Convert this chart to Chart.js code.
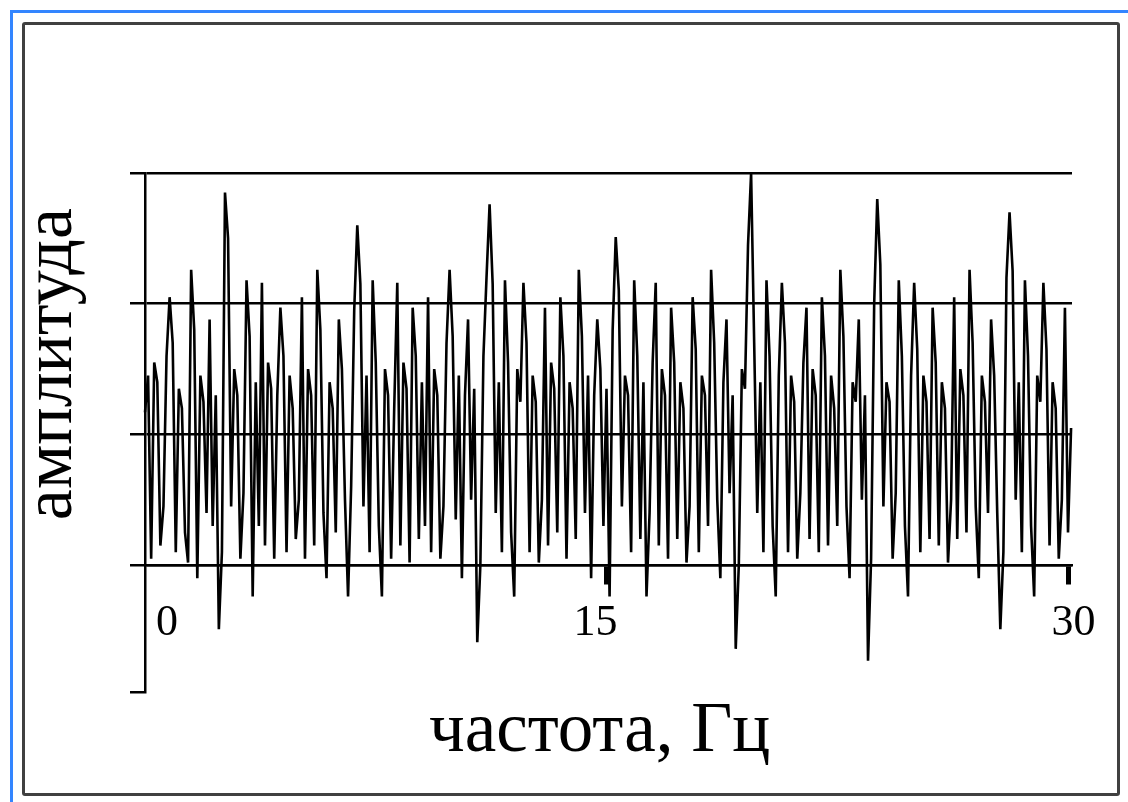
<!DOCTYPE html>
<html>
<head>
<meta charset="utf-8">
<script src="https://cdn.jsdelivr.net/npm/chart.js@4"></script>
<style>
  html, body { margin: 0; padding: 0; background: #fff; }
  #wrap { position: relative; width: 1128px; height: 802px; overflow: hidden; }
  .outer { position: absolute; left: 10px; top: 10px; width: 1200px; height: 900px;
           border-left: 3px solid #3385ff; border-top: 3px solid #3385ff; }
  .inner { position: absolute; left: 22px; top: 22px; width: 1092px; height: 768px;
           border: 3px solid #404040; border-radius: 3px; }
  canvas { position: absolute; left: 0; top: 0; }
</style>
</head>
<body>
<div id="wrap">
  <div class="outer"></div>
  <div class="inner"></div>
  <canvas id="signalChart" width="1128" height="802"></canvas>
</div>
<script>
// sample spacing along the frequency axis (Hz)
const sampleStep = 0.1;

// amplitude of each sample
const amplitude = [
   0.17,  0.45, -0.95,  0.55,  0.40, -0.85, -0.55,  0.60,  1.05,  0.70,
  -0.90,  0.35,  0.20, -0.75, -0.98,  1.26,  0.80, -1.10,  0.45,  0.25,
  -0.60,  0.88, -0.70,  0.30, -1.49, -0.90,  1.85,  1.50, -0.55,  0.50,
   0.30, -0.95, -0.45,  1.18,  0.75, -1.24,  0.40, -0.70,  1.16, -0.85,
   0.55,  0.35, -0.95,  0.30,  0.97,  0.60, -0.90,  0.45,  0.20, -0.80,
  -0.50,  1.05, -0.95,  0.50,  0.30, -0.85,  1.26,  0.80, -0.60, -1.10,
   0.40,  0.20, -0.75,  0.88,  0.50, -0.50, -1.24, -0.40,  0.95,  1.60,
   1.15, -0.55,  0.45, -0.90,  1.18,  0.55, -0.70, -1.24,  0.50,  0.30,
  -0.95,  0.20,  1.16, -0.85,  0.55,  0.35, -0.98,  0.97,  0.60, -0.80,
   0.40, -0.70,  1.05, -0.90,  0.50,  0.30, -0.95, -0.55,  0.70,  1.26,
   0.75, -0.65,  0.45, -1.10,  0.30,  0.88, -0.50,  0.35, -1.59, -1.00,
   0.60,  1.20,  1.76,  1.15, -0.60,  0.40, -0.90,  1.18,  0.55, -0.75,
  -1.24,  0.50,  0.25,  1.16,  0.70, -0.90,  0.45,  0.25, -0.98, -0.50,
   0.97, -0.85,  0.55,  0.35, -0.75,  1.05,  0.60, -0.95,  0.40,  0.20,
  -0.80,  1.26,  0.75, -0.60,  0.45, -1.10,  0.30,  0.88,  0.50, -0.70,
   0.35, -1.24,  0.80,  1.51,  1.10, -0.55,  0.45,  0.30, -0.90,  1.18,
   0.60, -0.80,  0.40, -1.24, -0.60,  0.55,  1.16, -0.85,  0.50,  0.30,
  -0.95,  0.97,  0.55, -0.80,  0.40,  0.20, -0.98, -0.55,  1.05,  0.65,
  -0.90,  0.45,  0.30, -0.70,  1.26,  0.70, -0.50, -1.10,  0.40,  0.88,
  -0.45,  0.30, -1.64, -1.00,  0.50,  0.35,  1.45,  2.00,  0.70, -0.60,
   0.40, -0.90,  1.18,  0.60, -0.70, -1.24,  0.45,  1.16,  0.70, -0.90,
   0.45,  0.25, -0.95, -0.45,  0.55,  0.97, -0.80,  0.50,  0.30, -0.90,
   1.05,  0.60, -0.85,  0.45,  0.20, -0.70,  1.26,  0.75, -0.55, -1.10,
   0.40,  0.25,  0.88, -0.50,  0.30, -1.73, -0.95,  1.00,  1.80,  1.30,
  -0.55,  0.40,  0.25, -0.95, -0.45,  1.18,  0.60, -0.70, -1.24,  0.45,
   1.16,  0.65, -0.90,  0.45,  0.25, -0.80,  0.97,  0.55, -0.85,  0.40,
   0.20, -0.98, -0.50,  1.05, -0.80,  0.50,  0.30, -0.75,  1.26,  0.70,
  -0.55, -1.10,  0.45,  0.25, -0.60,  0.88,  0.45, -0.60, -1.49, -0.90,
   1.20,  1.70,  1.25, -0.50,  0.40, -0.90,  1.18,  0.60, -0.70, -1.24,
   0.45,  0.25,  1.16,  0.65, -0.85,  0.40,  0.20, -0.95, -0.50,  0.97,
  -0.75,  0.05
];

// tick positions and their labels (spaces nudge the labels like in the original)
const xTickValues = [0, 15, 30];
const xTickLabels = ['\u2002\u20020', '15\u2002', '\u200530'];
const yTickValues = [-1.97, -1, 0, 1, 2];

const xLabel = 'частота, Гц';
const yLabel = 'амплитуда';

const points = amplitude.map((v, i) => ({ x: i * sampleStep, y: v }));

const serif = 'Liberation Serif, Times New Roman, serif';

new Chart(document.getElementById('signalChart').getContext('2d'), {
    type: 'line',
    data: {
        datasets: [{
            data: points,
            borderColor: '#000',
            borderWidth: 2.6,
            pointRadius: 0,
            tension: 0,
            clip: false
        }]
    },
    options: {
        responsive: false,
        animation: false,
        devicePixelRatio: 1,
        layout: { padding: { left: 0, top: 173, right: 56, bottom: 110 } },
        plugins: {
            legend: { display: false },
            tooltip: { enabled: false }
        },
        scales: {
            x: {
                type: 'linear',
                position: { y: -1 },
                min: 0,
                max: 30.13,
                afterBuildTicks: scale => { scale.ticks = xTickValues.map(v => ({ value: v })); },
                afterFit: scale => { scale.height = 210; },
                border: { display: true, color: '#000', width: 2.5 },
                grid: {
                    drawOnChartArea: false,
                    drawTicks: true,
                    tickLength: 18,
                    tickWidth: 5,
                    tickColor: ctx => (ctx.tick && ctx.tick.value === 0) ? 'rgba(0,0,0,0)' : '#000'
                },
                ticks: {
                    autoSkip: false,
                    maxRotation: 0,
                    padding: 14,
                    color: '#000',
                    font: { family: serif, size: 44 },
                    callback: (v, i) => xTickLabels[i]
                },
                title: {
                    display: true,
                    text: xLabel + '\u00a0',
                    color: '#000',
                    padding: 0,
                    font: { family: serif, size: 71 }
                }
            },
            y: {
                type: 'linear',
                position: 'left',
                min: -1.97,
                max: 2,
                afterBuildTicks: scale => { scale.ticks = yTickValues.map(v => ({ value: v })); },
                afterFit: scale => { scale.width = 145; },
                border: { display: true, color: '#000', width: 2.5 },
                grid: {
                    color: ctx => (ctx.tick && ctx.tick.value < -1.5) ? 'rgba(0,0,0,0)' : '#000',
                    lineWidth: 2.5,
                    drawTicks: true,
                    tickLength: 15,
                    tickWidth: 2.5,
                    tickColor: '#000'
                },
                ticks: { display: false },
                title: {
                    display: true,
                    text: yLabel + '\u00a0\u00a0',
                    align: 'end',
                    color: '#000',
                    padding: { top: 11, bottom: 0 },
                    font: { family: serif, size: 70 }
                }
            }
        }
    }
});
</script>
</body>
</html>
